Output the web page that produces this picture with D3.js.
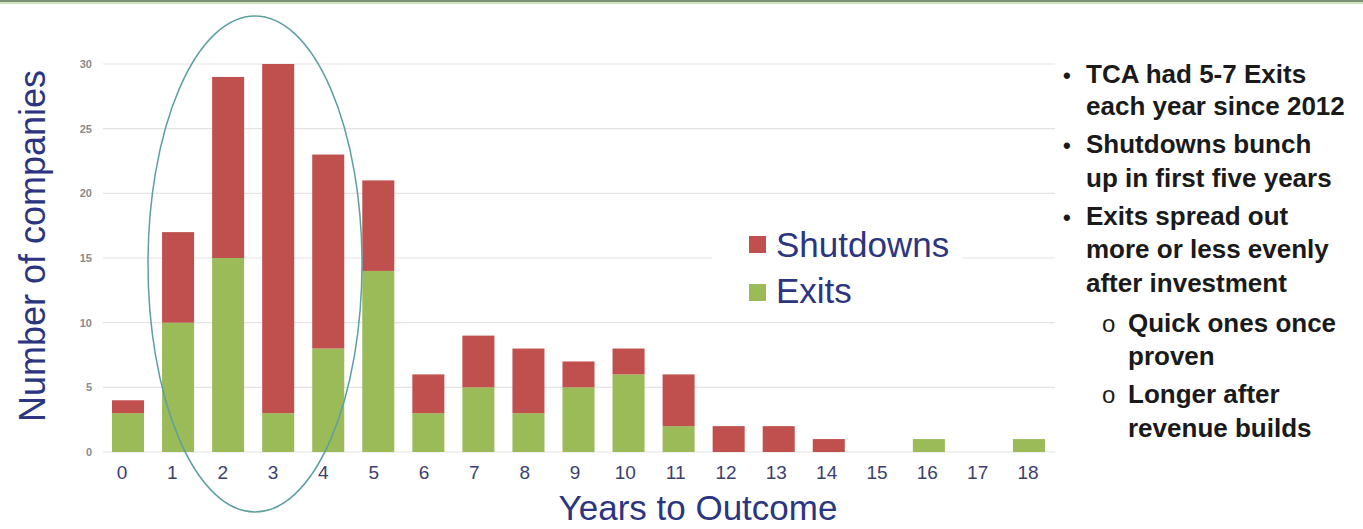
<!DOCTYPE html>
<html><head><meta charset="utf-8">
<script src="https://cdn.jsdelivr.net/npm/d3@7/dist/d3.min.js"></script>
<style>body{margin:0;background:#fff;}svg{display:block;font-family:"Liberation Sans",Arial,sans-serif;}</style>
</head><body>
<svg id="c" width="1363" height="529"></svg>
<script>
const categories = ["0","1","2","3","4","5","6","7","8","9","10","11","12","13","14","15","16","17","18"];
const exits =     [3,10,15,3,8,14,3,5,3,5,6,2,0,0,0,0,1,0,1];
const shutdowns = [1,7,14,27,15,7,3,4,5,2,2,4,2,2,1,0,0,0,0];
const yTicks = [0,5,10,15,20,25,30];
const seriesNames = ["Shutdowns","Exits"];
const notes = [
  {lvl:0, lines:["TCA had 5-7 Exits","each year since 2012"]},
  {lvl:0, lines:["Shutdowns bunch","up in first five years"]},
  {lvl:0, lines:["Exits spread out","more or less evenly","after investment"]},
  {lvl:1, lines:["Quick ones once","proven"]},
  {lvl:1, lines:["Longer after","revenue builds"]}
];

const svg = d3.select("#c");
const colors = {Exits:"#9bbb59", Shutdowns:"#c0504d"};
const navy = "#2b3580";

// top border
svg.append("rect").attr("x",0).attr("y",0).attr("width",1363).attr("height",2).attr("fill","#7d8f74");
svg.append("rect").attr("x",0).attr("y",2).attr("width",1363).attr("height",2).attr("fill","#cfe3c0");

const x = d3.scaleBand().domain(categories).range([103,1054]).paddingInner(0.36).paddingOuter(0.18);
const xl = d3.scalePoint().domain(categories).range([122,1028]);
const y = d3.scaleLinear().domain([0,30]).range([452,64]);

// gridlines
svg.append("g").selectAll("line").data(yTicks).join("line")
  .attr("x1",103).attr("x2",1055).attr("y1",d=>y(d)).attr("y2",d=>y(d))
  .attr("stroke","#e3e3e3").attr("stroke-width",1.2);

// y tick labels
svg.append("g").selectAll("text").data(yTicks).join("text")
  .attr("x",92).attr("y",d=>y(d)+4).attr("text-anchor","end")
  .attr("font-size",11).attr("font-weight","bold").attr("fill","#8a8a8a").text(d=>d);

// stacked bars
const data = categories.map((c,i)=>({cat:c, Exits:exits[i], Shutdowns:shutdowns[i]}));
const stack = d3.stack().keys(["Exits","Shutdowns"])(data);
svg.append("g").selectAll("g").data(stack).join("g").attr("fill",d=>colors[d.key])
  .selectAll("rect").data(d=>d).join("rect")
  .attr("x",d=>x(d.data.cat)).attr("width",x.bandwidth())
  .attr("y",d=>y(d[1])).attr("height",d=>y(d[0])-y(d[1]));

// x tick labels
svg.append("g").selectAll("text").data(categories).join("text")
  .attr("x",d=>xl(d)).attr("y",479).attr("text-anchor","middle")
  .attr("font-size",19).attr("fill","#3c4070").text(d=>d);

// axis titles
svg.append("text").attr("x",698).attr("y",520).attr("text-anchor","middle")
  .attr("font-size",35).attr("fill",navy).text("Years to Outcome");
svg.append("text").attr("transform","translate(45,246) rotate(-90)").attr("text-anchor","middle")
  .attr("font-size",36).attr("fill",navy).text("Number of companies");

// legend
const lg = svg.append("g");
lg.append("rect").attr("x",712).attr("y",222).attr("width",250).attr("height",90).attr("fill","#fff");
seriesNames.forEach((s,i)=>{
  lg.append("rect").attr("x",749).attr("y",236+i*48).attr("width",17).attr("height",17).attr("fill",colors[s]);
  lg.append("text").attr("x",776).attr("y",257+i*46).attr("font-size",35).attr("fill",navy).text(s);
});

// ellipse
svg.append("ellipse").attr("cx",255).attr("cy",264).attr("rx",107).attr("ry",248)
  .attr("fill","none").attr("stroke","#5e9fa0").attr("stroke-width",1.5);

// notes
const ng = svg.append("g").attr("font-size",26).attr("font-weight","bold").attr("fill","#1a1a1a");
const baselines = [[83,115],[153,187],[225,258,292],[332,365],[403,437]];
notes.forEach((n,i)=>{
  const tx = n.lvl===0 ? 1086 : 1128;
  const bx = n.lvl===0 ? 1063 : 1102;
  ng.append("text").attr("x",bx).attr("y",baselines[i][0]).attr("font-weight",n.lvl===0?"bold":"normal")
    .attr("font-size",n.lvl===0?22:24).text(n.lvl===0 ? "•" : "o");
  n.lines.forEach((l,j)=>{
    ng.append("text").attr("x",tx).attr("y",baselines[i][j]).text(l);
  });
});
</script>
</body></html>
